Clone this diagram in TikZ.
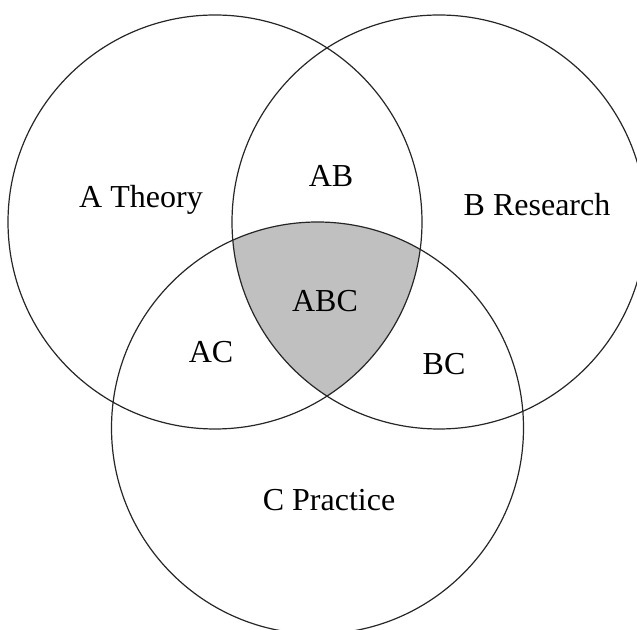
\documentclass[tikz,border=0pt]{standalone}
\usepackage{fontspec}
\setmainfont{Liberation Serif}
\usetikzlibrary{calc}
\definecolor{coregray}{RGB}{192,192,192}
\tikzset{
 setline/.style={draw=black!85,line width=1.2pt},
 setlabel/.style={anchor=base,inner sep=0,font=\fontsize{32}{38}\selectfont},
 corefill/.style={fill=coregray}
}

\begin{document}
\begin{tikzpicture}[x=1pt,y=1pt]
\clip (0,0) rectangle (637,629);
\coordinate (A) at (215,407);
\coordinate (B) at (439,407);
\coordinate (C) at (317.5,201);
% shaded triple overlap
\begin{scope}
\clip (A) circle[radius=207pt];
\clip (B) circle[radius=207pt];
\fill[corefill] (C) circle[radius=206pt];
\end{scope}
\draw[setline] (A) circle[radius=207pt];
\draw[setline] (B) circle[radius=207pt];
\draw[setline] (C) circle[radius=206pt];
\node[setlabel] (theory) at (141,421) {A Theory};
\node[setlabel] (research) at (537,413) {B Research};
\node[setlabel] (practice) at (329,118) {C Practice};
\node[setlabel] (ab) at (331,442) {AB};
\node[setlabel] (ac) at (211,266) {AC};
\node[setlabel] (bc) at (444,254) {BC};
\node[setlabel] (abc) at (325,317) {ABC};
\end{tikzpicture}
\end{document}
